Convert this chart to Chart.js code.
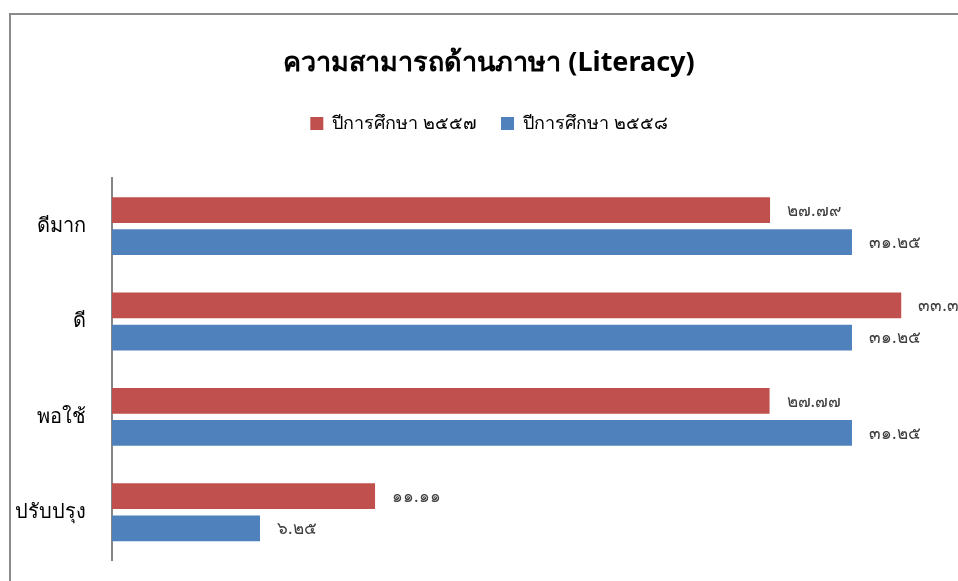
<!DOCTYPE html>
<html>
<head>
<meta charset="utf-8">
<script src="https://cdn.jsdelivr.net/npm/chart.js@4"></script>
<style>
  html, body { margin: 0; padding: 0; background: #fff; }
  #wrap { position: relative; width: 958px; height: 581px; overflow: hidden; }
  #frame { position: absolute; left: 9px; top: 13px; width: 1000px; height: 700px;
           border-top: 2px solid #8a8a8a; border-left: 2px solid #8a8a8a; }
  #c { position: absolute; left: 10px; top: 0; }
</style>
</head>
<body>
<div id="wrap">
  <div id="frame"></div>
  <canvas id="c" width="958" height="581"></canvas>
</div>
<script>
const categories = ['ดีมาก', 'ดี', 'พอใช้', 'ปรับปรุง'];
const seriesNames = ['ปีการศึกษา ๒๕๕๗', 'ปีการศึกษา ๒๕๕๘'];
const values2557 = [27.79, 33.33, 27.77, 11.11];
const values2558 = [31.25, 31.25, 31.25, 6.25];
const seriesColors = ['#C0504D', '#4F81BD'];
const fontFamily = "Tahoma, 'Noto Sans', 'DejaVu Sans', sans-serif";

const thaiDigits = ['๐','๑','๒','๓','๔','๕','๖','๗','๘','๙'];
function toThai(n) {
  return n.toFixed(2).replace(/[0-9]/g, d => thaiDigits[+d]);
}

// draws the value next to every bar
const barLabels = {
  id: 'barLabels',
  afterDatasetsDraw(chart) {
    const ctx = chart.ctx;
    ctx.save();
    ctx.font = '17px ' + fontFamily;
    ctx.fillStyle = '#404040';
    ctx.textBaseline = 'middle';
    ctx.textAlign = 'left';
    chart.data.datasets.forEach((ds, i) => {
      chart.getDatasetMeta(i).data.forEach((bar, j) => {
        ctx.fillText(toThai(ds.data[j]), bar.x + 17, bar.y + 1);
      });
    });
    ctx.restore();
  }
};

// extra room under the legend
const legendGap = {
  id: 'legendGap',
  beforeInit(chart) {
    if (!chart.legend) return;
    const fit = chart.legend.fit;
    chart.legend.fit = function () {
      fit.call(this);
      this.height += 36;
    };
  }
};

new Chart(document.getElementById('c'), {
  type: 'bar',
  data: {
    labels: categories,
    datasets: [
      { label: seriesNames[0], data: values2557, backgroundColor: seriesColors[0] },
      { label: seriesNames[1], data: values2558, backgroundColor: seriesColors[1] }
    ]
  },
  options: {
    indexAxis: 'y',
    responsive: false,
    animation: false,
    categoryPercentage: 0.674,
    barPercentage: 0.8,
    layout: { padding: { top: 24, bottom: 21, left: 0, right: 0 } },
    plugins: {
      title: {
        display: true,
        text: 'ความสามารถด้านภาษา (Literacy)',
        color: '#000',
        font: { family: fontFamily, size: 27, weight: 'bold' },
        padding: { top: 23, bottom: 11 }
      },
      legend: {
        display: true,
        labels: {
          color: '#000',
          font: { family: fontFamily, size: 18 },
          boxWidth: 13,
          boxHeight: 13,
          padding: 24
        }
      },
      tooltip: { enabled: false }
    },
    scales: {
      x: {
        display: false,
        min: 0,
        max: 36.15
      },
      y: {
        afterFit(scale) {
          scale.width = 102;
          scale.paddingTop = 0;
          scale.paddingBottom = 0;
        },
        border: { display: true, color: '#868686', width: 2 },
        grid: { display: false },
        ticks: {
          color: '#000',
          padding: 18,
          font: { family: fontFamily, size: 20 }
        }
      }
    }
  },
  plugins: [barLabels, legendGap]
});
</script>
</body>
</html>
